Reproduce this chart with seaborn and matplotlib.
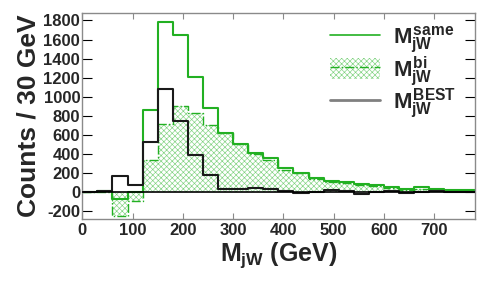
import numpy as np
import pandas as pd
import matplotlib
matplotlib.use("Agg")
import matplotlib.pyplot as plt
import seaborn as sns
from matplotlib.lines import Line2D
from matplotlib.patches import Patch

# ---- data (30 GeV bins from 0 to 780 GeV) ----
bin_edges = list(range(0, 781, 30))
same_counts = [0, 10, -73, 0, 858, 1787, 1650, 1209, 880, 625, 508, 412, 360,
               251, 206, 147, 119, 112, 87, 77, 52, 35, 52, 38, 24, 28]
bi_counts = [0, 0, -248, -91, 333, 714, 904, 826, 702, 620, 504, 405, 338,
             234, 199, 136, 112, 94, 80, 66, 45, 28, 38, 31, 21, 17]
best_counts = [0, 10, 175, 77, 530, 1077, 750, 389, 180, 31, 31, 49, 38,
               14, -8, 7, 20, 17, -15, 7, 10, -8, 7, 10, 8, 8]
x_ticks = [0, 100, 200, 300, 400, 500, 600, 700]
y_ticks = [-200, 0, 200, 400, 600, 800, 1000, 1200, 1400, 1600, 1800]
labels = [r"$M^{same}_{jW}$", r"$M^{bi}_{jW}$", r"$M^{BEST}_{jW}$"]

edges = [float(e) for e in bin_edges]
centers = [(a + b) / 2 for a, b in zip(edges[:-1], edges[1:])]
df = pd.DataFrame({"mjw": centers, "same": same_counts,
                   "bi": bi_counts, "best": best_counts})

sns.set_theme(style="ticks")
plt.rcParams["font.family"] = ["Liberation Sans", "DejaVu Sans"]
plt.rcParams["font.weight"] = "bold"
plt.rcParams["mathtext.fontset"] = "custom"
plt.rcParams["mathtext.rm"] = "Liberation Sans:bold"
plt.rcParams["mathtext.it"] = "Liberation Sans:bold"
plt.rcParams["mathtext.bf"] = "Liberation Sans:bold"
plt.rcParams["hatch.linewidth"] = 0.45

GREEN = "#22b022"
HATCH = "#7fd27f"
DARK = "#1a1a1a"
FRAME = "#8a8a8a"

fig = plt.figure(figsize=(4.85, 2.81), dpi=100)
ax = fig.add_axes([0.1697, 0.2196, 0.8087, 0.7352])

# hatched "bi" histogram
sns.histplot(data=df, x="mjw", weights="bi", bins=edges, element="step",
             fill=True, ax=ax, color=HATCH)
poly = ax.collections[-1]
poly.set_facecolor("none")
poly.set_edgecolor(HATCH)
poly.set_linewidth(0)
poly.set_hatch("xxxxxx")
poly.set_zorder(1)

sns.histplot(data=df, x="mjw", weights="bi", bins=edges, element="step",
             fill=False, ax=ax, color=GREEN, linewidth=1.0, linestyle="-.")
sns.histplot(data=df, x="mjw", weights="same", bins=edges, element="step",
             fill=False, ax=ax, color=GREEN, linewidth=1.5)
sns.histplot(data=df, x="mjw", weights="best", bins=edges, element="step",
             fill=False, ax=ax, color=DARK, linewidth=1.5)
ax.axhline(0, color="black", linewidth=1.2, zorder=5)

ax.set_xlim(0, 780)
ax.set_ylim(-283, 1881)
ax.set_xticks(x_ticks)
ax.set_yticks(y_ticks)
ax.set_xticklabels([str(v) for v in x_ticks], fontsize=12, fontweight="bold")
ax.set_yticklabels([str(v) for v in y_ticks], fontsize=12, fontweight="bold")
ax.tick_params(axis="x", direction="in", top=True, length=4.5, width=0.8,
               color=FRAME, pad=3)
ax.tick_params(axis="y", direction="in", right=True, length=7, width=0.8,
               color="black", pad=1.5)
for s in ax.spines.values():
    s.set_color(FRAME)
    s.set_linewidth(1.0)

ax.set_xlabel(r"$M_{jW}$ (GeV)", fontsize=18, fontweight="bold", labelpad=1)
ax.set_ylabel("Counts / 30 GeV", fontsize=19, fontweight="bold", labelpad=2)

handles = [
    Line2D([], [], color=GREEN, linewidth=1.2),
    (Patch(facecolor="none", edgecolor=HATCH, hatch="xxxxxx", linewidth=0),
     Line2D([], [], color=GREEN, linewidth=1.0, linestyle="-.")),
    Line2D([], [], color="#808080", linewidth=2),
]
leg = ax.legend(handles, labels, loc="upper left",
                bbox_to_anchor=(0.6, 1.0), frameon=False, fontsize=16,
                handlelength=2.25, handleheight=1.05, labelspacing=-0.05,
                handletextpad=0.6, borderaxespad=0.15)

fig.savefig("out.png", dpi=100)
